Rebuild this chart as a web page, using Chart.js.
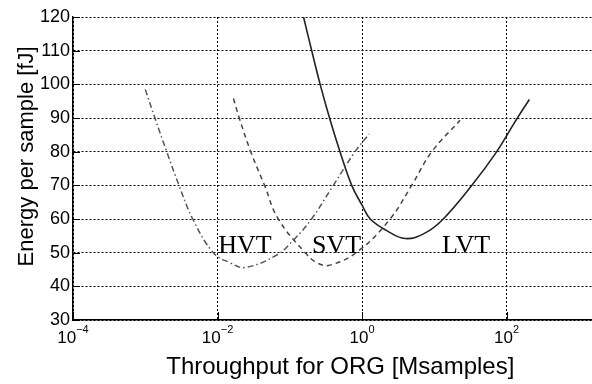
<!DOCTYPE html>
<html>
<head>
<meta charset="utf-8">
<script src="https://cdn.jsdelivr.net/npm/chart.js@4.4.0/dist/chart.umd.min.js"></script>
<style>
  html, body { margin: 0; padding: 0; background: #fff; }
  #wrap { width: 592px; height: 384px; }
</style>
</head>
<body>
<div id="wrap"><canvas id="energyChart"></canvas></div>
<script>
// values (x = throughput in Msamples, y = energy in fJ)
const hvtX = [0.001, 0.00136, 0.00198, 0.00293, 0.00454, 0.00875, 0.0149, 0.024, 0.066, 0.112, 0.2, 0.4, 0.8, 1.26];
const hvtY = [98.5, 90, 80, 70, 60, 50, 47, 45.6, 49.3, 53.7, 60, 70, 80, 85.3];

const svtX = [0.0166, 0.02, 0.0288, 0.0447, 0.0692, 0.163, 0.237, 0.361, 0.891, 2.44, 4.86, 9.23, 22.7];
const svtY = [95.8, 90, 80, 70, 60, 50, 47, 46.3, 50.5, 60, 70, 80, 89.3];

const lvtX = [0.155, 0.201, 0.263, 0.355, 0.495, 0.719, 1.0, 1.30, 2.14, 3.94, 7.41, 13.3, 33.1, 73.1, 131.8, 206.5];
const lvtY = [120, 110, 100, 90, 80, 70, 64.1, 60, 56.7, 54.2, 55.8, 60, 70, 80, 89, 95.5];

// tick labels: mantissa and exponent
const xTickValues = [1e-4, 1e-2, 1, 100];
const xTickBase = ['10', '10', '10', '10'];
const xTickExp = ['\u22124', '\u22122', '0', '2'];

const curveNames = ['HVT', 'SVT', 'LVT'];
const curveLabelX = [0.0102, 0.203, 12.8];
const curveLabelY = [50, 50, 50];

const xTitle = 'Throughput for ORG [Msamples]';
const yTitle = 'Energy per sample [fJ]';

const toPoints = (xs, ys) => xs.map((x, i) => ({ x: x, y: ys[i] }));

const sansFont = '"Liberation Sans", Arial, sans-serif';

// curve names, inward tick marks, x tick labels with exponents, axis titles
const decorations = {
  id: 'decorations',
  afterDraw(chart) {
    const ctx = chart.ctx;
    const xs = chart.scales.x;
    const ys = chart.scales.y;
    const area = chart.chartArea;

    ctx.save();
    ctx.strokeStyle = '#000';
    ctx.lineWidth = 1;
    ctx.setLineDash([]);
    ctx.beginPath();
    xs.ticks.forEach(t => {
      const px = Math.round(xs.getPixelForValue(t.value)) + 0.5;
      ctx.moveTo(px, area.bottom);
      ctx.lineTo(px, area.bottom - 8);
    });
    ys.ticks.forEach(t => {
      const py = Math.round(ys.getPixelForValue(t.value)) + 0.5;
      ctx.moveTo(area.left, py);
      ctx.lineTo(area.left + 7, py);
    });
    ctx.stroke();

    ctx.fillStyle = '#000';
    ctx.textBaseline = 'alphabetic';
    ctx.textAlign = 'left';
    xTickValues.forEach((v, i) => {
      ctx.font = '17px ' + sansFont;
      const wBase = ctx.measureText(xTickBase[i]).width;
      ctx.font = '11px ' + sansFont;
      const wExp = ctx.measureText(xTickExp[i]).width;
      const left = xs.getPixelForValue(v) - (wBase + wExp) / 2;
      ctx.font = '17px ' + sansFont;
      ctx.fillText(xTickBase[i], left, area.bottom + 23);
      ctx.font = '11px ' + sansFont;
      ctx.fillText(xTickExp[i], left + wBase, area.bottom + 13);
    });

    ctx.font = '26px "Liberation Serif", "Times New Roman", serif';
    curveNames.forEach((name, i) => {
      ctx.fillText(name, xs.getPixelForValue(curveLabelX[i]), ys.getPixelForValue(curveLabelY[i]));
    });

    ctx.font = '24px ' + sansFont;
    ctx.textAlign = 'center';
    ctx.fillText(xTitle, area.left + (area.right - area.left) * 0.515, 374);

    ctx.font = '22px ' + sansFont;
    ctx.translate(33, area.top + (area.bottom - area.top) * 0.46);
    ctx.rotate(-Math.PI / 2);
    ctx.fillText(yTitle, 0, 0);
    ctx.restore();
  }
};

const ctx = document.getElementById('energyChart').getContext('2d');
const energyChart = new Chart(ctx, {
  type: 'line',
  data: {
    datasets: [
      {
        label: 'HVT',
        data: toPoints(hvtX, hvtY),
        borderColor: '#555',
        borderWidth: 1.5,
        borderDash: [6, 3, 1.5, 3],
        pointRadius: 0,
        tension: 0.4,
        fill: false,
      },
      {
        label: 'SVT',
        data: toPoints(svtX, svtY),
        borderColor: '#444',
        borderWidth: 1.5,
        borderDash: [5, 4],
        pointRadius: 0,
        tension: 0.4,
        fill: false,
      },
      {
        label: 'LVT',
        data: toPoints(lvtX, lvtY),
        borderColor: '#222',
        borderWidth: 1.6,
        pointRadius: 0,
        tension: 0.4,
        fill: false,
      },
    ],
  },
  options: {
    responsive: true,
    maintainAspectRatio: false,
    animation: false,
    layout: { padding: { top: 17, right: 0, left: 0, bottom: 0 } },
    plugins: {
      legend: { display: false },
      tooltip: { enabled: false },
    },
    scales: {
      x: {
        type: 'logarithmic',
        min: 1e-4,
        max: 1520,
        afterBuildTicks: scale => {
          scale.ticks = xTickValues.map(v => ({ value: v }));
        },
        afterFit: scale => { scale.height = 64; },
        ticks: { display: false },
        grid: { color: '#000', lineWidth: 1, drawTicks: false },
        border: { display: true, color: '#000', width: 1.5, dash: [2, 2] },
      },
      y: {
        min: 30,
        max: 120,
        afterFit: scale => { scale.width = 73; },
        ticks: {
          stepSize: 10,
          padding: 3,
          color: '#000',
          font: { family: sansFont, size: 18 },
        },
        grid: { color: '#000', lineWidth: 1, drawTicks: false },
        border: { display: true, color: '#000', width: 1.5, dash: [2, 2] },
      },
    },
  },
  plugins: [decorations],
});
</script>
</body>
</html>
